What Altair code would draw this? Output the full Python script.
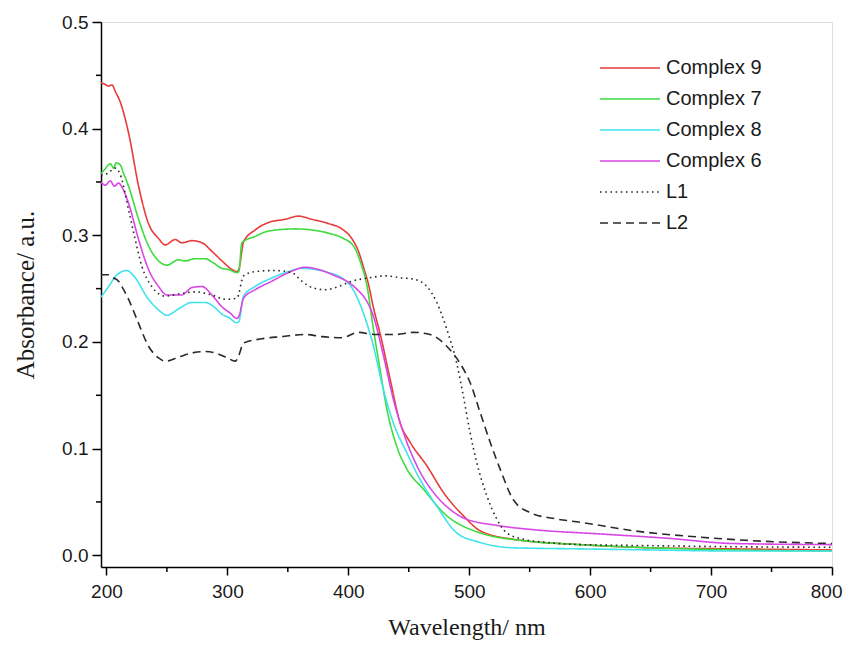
import altair as alt
import pandas as pd

# ---------------- data ----------------
series_names = ["Complex 9", "Complex 7", "Complex 8", "Complex 6", "L1", "L2"]
series_colors = ["#e83b3b", "#3ddc3d", "#3fe3ec", "#d946e6", "#2a2a2a", "#2a2a2a"]
series_dashes = [[1, 0], [1, 0], [1, 0], [1, 0], [1.6, 3.6], [8, 5]]

wl_c9 = [195.5, 198, 201.8, 204.6, 207.3, 211.4, 218.3, 226.6, 234.8, 243.1, 248.6, 256.9,
         262.4, 270.7, 279, 287.2, 295.5, 303.8, 307.9, 309.5, 313.4, 323, 334, 347.8,
         358.8, 369.9, 383.6, 394.7, 402.9, 408.4, 413.9, 416.3, 420.8, 426.3, 434.6,
         442.9, 451.1, 464.9, 478.6, 495.2, 509, 536.5, 591.6, 650, 720, 800]
abs_c9 = [0.443, 0.442, 0.440, 0.441, 0.435, 0.425, 0.396, 0.346, 0.311, 0.297, 0.291, 0.296,
          0.293, 0.295, 0.293, 0.285, 0.276, 0.268, 0.266, 0.268, 0.294, 0.305, 0.312, 0.315,
          0.318, 0.315, 0.311, 0.306, 0.297, 0.285, 0.265, 0.256, 0.232, 0.208, 0.165,
          0.124, 0.106, 0.084, 0.059, 0.037, 0.023, 0.015, 0.010, 0.007, 0.006, 0.005]

wl_c7 = [195.5, 198, 203.2, 206, 208, 211.4, 214.2, 218.3, 226.6, 234.8, 243.1, 250, 259.6,
         265, 273.4, 281.7, 288.6, 295.5, 301, 307.9, 309.5, 312, 323, 334, 356.1, 369.9,
         383.6, 396, 404.3, 411.2, 414.9, 420.8, 426.3, 431.9, 440.1, 448.4, 462.1, 478.6,
         509, 550.3, 591.6, 650, 720, 800]
abs_c7 = [0.358, 0.361, 0.367, 0.363, 0.368, 0.366, 0.358, 0.346, 0.315, 0.290, 0.276, 0.272,
          0.277, 0.276, 0.278, 0.278, 0.274, 0.269, 0.268, 0.265, 0.266, 0.293, 0.299, 0.304,
          0.306, 0.305, 0.302, 0.297, 0.290, 0.271, 0.256, 0.212, 0.174, 0.137, 0.102, 0.081,
          0.062, 0.040, 0.021, 0.013, 0.010, 0.007, 0.005, 0.004]

wl_c8 = [195.5, 201.8, 208.7, 213, 217, 222.5, 234.8, 243.1, 250, 259.6, 270.7, 281.7, 290,
         295.5, 301, 307.9, 309.5, 313.4, 323, 336.8, 350.5, 361.6, 372.6, 383.6, 394.7,
         402.9, 412.5, 420.8, 429.1, 437.3, 448.4, 459.4, 473.2, 489.7, 509, 536.5, 591.6,
         650, 720, 800]
abs_c8 = [0.242, 0.252, 0.263, 0.266, 0.267, 0.262, 0.240, 0.230, 0.225, 0.231, 0.237, 0.237,
          0.232, 0.226, 0.223, 0.218, 0.219, 0.243, 0.252, 0.260, 0.266, 0.269, 0.268, 0.265,
          0.260, 0.251, 0.227, 0.196, 0.155, 0.124, 0.096, 0.071, 0.046, 0.021, 0.012, 0.007,
          0.006, 0.005, 0.004, 0.004]

wl_c6 = [195.5, 199, 203.2, 206.5, 210, 212.9, 218.3, 226.6, 234.8, 243.1, 250, 262, 270.7,
         279, 287.2, 295.5, 302.4, 307.9, 309.5, 313.4, 323, 336.8, 350.5, 364.3, 375.3,
         389.1, 400.1, 408.4, 412.5, 420.8, 429.1, 437.3, 445.6, 456.7, 470.4, 484.2, 495.2,
         522.8, 553, 608, 663.3, 718.4, 800]
abs_c6 = [0.350, 0.347, 0.351, 0.346, 0.349, 0.345, 0.330, 0.296, 0.268, 0.252, 0.244, 0.244,
          0.251, 0.252, 0.244, 0.233, 0.227, 0.222, 0.224, 0.241, 0.249, 0.257, 0.265, 0.270,
          0.268, 0.262, 0.256, 0.248, 0.243, 0.224, 0.187, 0.146, 0.115, 0.084, 0.059, 0.043,
          0.035, 0.028, 0.024, 0.020, 0.016, 0.011, 0.010]

wl_l1 = [195.5, 201, 207.3, 211.4, 218.3, 223.8, 229.3, 237.5, 248.6, 259.6, 273.4, 287.2,
         298.2, 307.9, 313.4, 323, 339.5, 353.3, 361.6, 369.9, 380.9, 391.9, 402.9, 416.7,
         430.5, 444.3, 453.9, 465, 473.2, 481.4, 489.7, 495.2, 500.7, 506.2, 514.5, 522.8,
         531, 544.8, 564, 591.6, 650, 720, 800]
abs_l1 = [0.356, 0.358, 0.363, 0.357, 0.324, 0.296, 0.271, 0.252, 0.243, 0.245, 0.247, 0.244,
          0.240, 0.241, 0.262, 0.266, 0.267, 0.265, 0.257, 0.251, 0.249, 0.252, 0.257, 0.260,
          0.262, 0.260, 0.259, 0.252, 0.237, 0.212, 0.180, 0.149, 0.115, 0.087, 0.056, 0.034,
          0.021, 0.015, 0.012, 0.010, 0.009, 0.008, 0.0075]

wl_l2 = [195.5, 201.8, 206, 210, 214.2, 218.3, 225.3, 234.8, 243.1, 248.6, 260, 272, 281.7,
         292, 300, 306.6, 309, 313.4, 328.5, 345, 364.3, 378, 394.7, 408.4, 422.2, 438.7,
         453.9, 467.7, 481.4, 492.4, 500.7, 509, 517.3, 525.5, 536.5, 550.3, 572.4, 591.6,
         635.7, 690.8, 746, 800]
abs_l2 = [0.263, 0.263, 0.260, 0.257, 0.249, 0.240, 0.221, 0.196, 0.185, 0.182, 0.186, 0.190,
          0.191, 0.189, 0.185, 0.182, 0.186, 0.199, 0.203, 0.205, 0.207, 0.205, 0.204, 0.209,
          0.207, 0.207, 0.209, 0.207, 0.196, 0.180, 0.162, 0.134, 0.106, 0.081, 0.052, 0.040,
          0.034, 0.031, 0.023, 0.017, 0.013, 0.011]

x_major = [200, 300, 400, 500, 600, 700, 800]
x_minor = [250, 350, 450, 550, 650, 750]
y_major = [0.0, 0.1, 0.2, 0.3, 0.4, 0.5]
y_minor = [0.05, 0.15, 0.25, 0.35, 0.45]

# ---------------- build table ----------------
all_wl = [wl_c9, wl_c7, wl_c8, wl_c6, wl_l1, wl_l2]
all_abs = [abs_c9, abs_c7, abs_c8, abs_c6, abs_l1, abs_l2]
rows = []
for name, wls, vals in zip(series_names, all_wl, all_abs):
    for w, a in zip(wls, vals):
        rows.append({"series": name, "wl": w, "A": a})
df = pd.DataFrame(rows)

W, H = 731, 545
FONT = "Liberation Sans, Arial, sans-serif"
SERIF = "Liberation Serif, Times New Roman, serif"

xscale = alt.Scale(domain=[195.5, 800], nice=False, zero=False)
yscale = alt.Scale(domain=[-0.011, 0.5], nice=False, zero=False)

xaxis = alt.Axis(values=x_major, format="d", title="Wavelength/ nm", grid=False,
                 tickSize=8, tickWidth=1.5, tickColor="black", domainColor="black",
                 domainWidth=1.5, labelFont=FONT, labelFontSize=19, labelColor="#1a1a1a",
                 labelPadding=7, titleFont=SERIF, titleFontSize=24, titleFontWeight="normal",
                 titleColor="#1a1a1a", titlePadding=14, labelFlush=5, labelFlushOffset=10)
yaxis = alt.Axis(values=y_major, format=".1f", title="Absorbance/ a.u.", grid=False,
                 tickSize=9, tickWidth=1.5, tickColor="black", domainColor="black",
                 domainWidth=1.5, labelFont=FONT, labelFontSize=19, labelColor="#1a1a1a",
                 labelPadding=4, titleFont=SERIF, titleFontSize=25, titleFontWeight="normal",
                 titleColor="#1a1a1a", titlePadding=23, labelFlush=False)

legend_kw = dict(orient="none", legendX=499, legendY=35, title=None,
                 symbolType="M-3,0L3,0", symbolSize=400, symbolStrokeWidth=1.6,
                 symbolOffset=19, labelOffset=25, labelFont=FONT, labelFontSize=20,
                 labelColor="#1a1a1a", rowPadding=10, padding=0, labelLimit=300)

lines = alt.Chart(df).mark_line(strokeWidth=1.6, interpolate="monotone", clip=True).encode(
    x=alt.X("wl:Q", scale=xscale, axis=xaxis),
    y=alt.Y("A:Q", scale=yscale, axis=yaxis),
    color=alt.Color("series:N", scale=alt.Scale(domain=series_names, range=series_colors),
                    legend=alt.Legend(**legend_kw)),
    strokeDash=alt.StrokeDash("series:N",
                              scale=alt.Scale(domain=series_names, range=series_dashes),
                              legend=alt.Legend(**legend_kw)),
    detail="series:N",
)

minor_x = alt.Chart(pd.DataFrame({"wl": x_minor})).mark_rule(color="black", strokeWidth=1.5).encode(
    x=alt.X("wl:Q", scale=xscale, axis=xaxis),
    y=alt.value(H),
    y2=alt.value(H + 5),
)
minor_y = alt.Chart(pd.DataFrame({"A": y_minor})).mark_rule(color="black", strokeWidth=1.5).encode(
    y=alt.Y("A:Q", scale=yscale, axis=yaxis),
    x=alt.value(-5),
    x2=alt.value(0),
)

chart = alt.layer(lines, minor_x, minor_y).properties(
    width=W, height=H,
    autosize=alt.AutoSizeParams(type="none"),
    padding={"left": 93, "top": 14, "right": 11, "bottom": 75},
).configure_view(stroke="black", strokeWidth=1.5).configure(background="white")

chart.save("out.html", embed_options={"renderer": "svg", "actions": False})
